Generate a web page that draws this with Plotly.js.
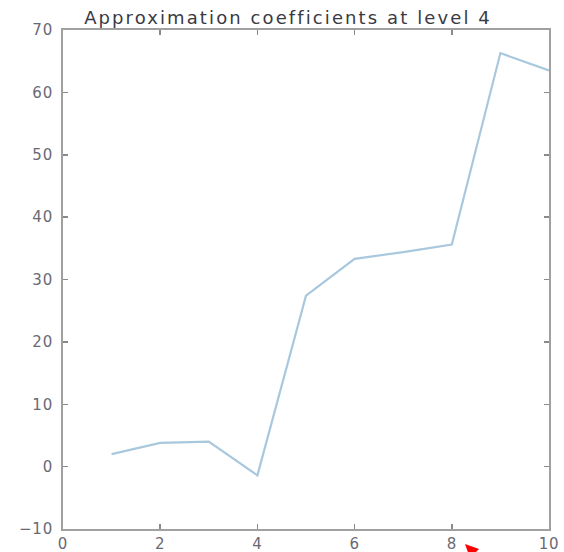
<!DOCTYPE html>
<html>
<head>
<meta charset="utf-8">
<script src="https://cdn.plot.ly/plotly-3.0.1.min.js"></script>
<style>
html,body{margin:0;padding:0;background:#fff;}
#chart{width:564px;height:552px;}
#chart .gtitle{letter-spacing:2.1px;}
#chart .xtick text,#chart .ytick text{letter-spacing:0.8px;}
</style>
</head>
<body>
<div id="chart"></div>
<script>
const xValues = [1, 2, 3, 4, 5, 6, 7, 8, 9, 10];
const coefficients = [2.0, 3.8, 4.0, -1.4, 27.4, 33.3, 34.4, 35.6, 66.3, 63.5];
const xTicks = [0, 2, 4, 6, 8, 10];
const yTicks = [-10, 0, 10, 20, 30, 40, 50, 60, 70];
const chartTitle = 'Approximation coefficients at level 4';

const axisCommon = {
  showgrid: false, zeroline: false, showline: true, mirror: 'ticks',
  linecolor: '#a0a0a0', linewidth: 2, ticks: 'inside', ticklen: 5, tickwidth: 1.5,
  tickcolor: '#8a8a8a', tickfont: {family: 'DejaVu Sans, Arial', size: 15, color: '#6a6a74'}
};

// pixel -> paper helpers for the decorative red arrowhead (not data)
const px = p => (p - 63) / 486;
const py = p => (529 - p) / 499;
const arrowPath = 'M ' + px(465) + ',' + py(544) + ' L ' + px(479) + ',' + py(549) +
                  ' L ' + px(470) + ',' + py(558) + ' Z';

Plotly.newPlot('chart', [{
  x: xValues, y: coefficients, type: 'scatter', mode: 'lines',
  line: {color: '#a9c8de', width: 2.2}
}], {
  width: 564, height: 552,
  margin: {l: 63, r: 15, t: 30, b: 23},
  paper_bgcolor: '#fff', plot_bgcolor: '#fff',
  showlegend: false,
  title: {text: chartTitle, x: 288 / 564, xanchor: 'center', y: 1 - 11 / 552, yanchor: 'top',
          font: {family: 'DejaVu Sans, Arial', size: 18, color: '#3a3a44'}},
  xaxis: Object.assign({}, axisCommon, {range: [0, 10], tickvals: xTicks, ticklabelstandoff: 0}),
  yaxis: Object.assign({}, axisCommon, {range: [-10, 70], tickvals: yTicks, ticklabelstandoff: 5}),
  shapes: [{
    type: 'path', xref: 'paper', yref: 'paper', path: arrowPath,
    fillcolor: '#ff0000', line: {width: 0}, layer: 'above'
  }]
}, {displayModeBar: false, staticPlot: true});
</script>
</body>
</html>
